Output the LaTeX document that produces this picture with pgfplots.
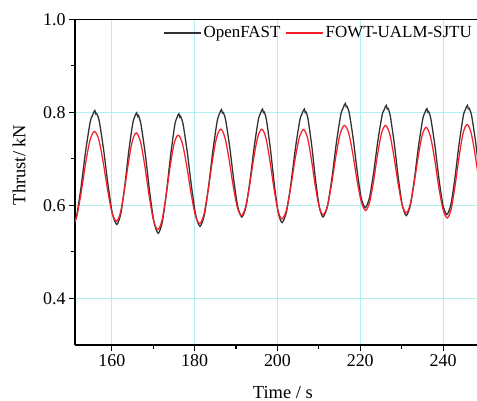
\documentclass[border=0pt]{standalone}
\usepackage{pgfplots}
\pgfplotsset{compat=1.18}
\usepackage{fontspec}
\setmainfont{Liberation Serif}
\definecolor{gridc}{RGB}{175,240,240}
\definecolor{ofgray}{RGB}{50,50,50}
\definecolor{sjred}{RGB}{245,30,40}
\begin{document}
\begin{tikzpicture}
\begin{axis}[
  scale only axis,
  width=402bp, height=325.7bp,
  xmin=151.1, xmax=248.2,
  ymin=0.3, ymax=1.0,
  axis x line*=box, axis y line*=left,
  xtick pos=left, ytick pos=left,
  tick align=outside,
  xtick={160,180,200,220,240},
  ytick={0.4,0.6,0.8,1.0},
  minor x tick num=1, minor y tick num=1,
  major tick length=6bp, minor tick length=3.5bp,
  tick style={black, line width=1.1bp},
  axis line style={black, line width=1.2bp},
  grid=major,
  major grid style={gridc, line width=0.7bp},
  /pgf/number format/assume math mode=true,
  yticklabel style={/pgf/number format/fixed, /pgf/number format/fixed zerofill, /pgf/number format/precision=1},
  xticklabel style={/pgf/number format/fixed},
  scaled ticks=false,
  tick label style={font=\fontsize{18}{20}\selectfont},
  xlabel={Time / s},
  ylabel={Thrust/ kN},
  label style={font=\fontsize{18.5}{21}\selectfont},
  xlabel style={at={(axis description cs:0.517,0)}, anchor=base, yshift=-53bp},
  ylabel style={at={(axis description cs:-0.139,0.553)}, anchor=center},
  legend columns=2,
  legend style={at={(1.0,0.99)}, anchor=north east, draw=none, fill=none,
    font=\fontsize{17}{19}\selectfont,
    /tikz/every even column/.append style={column sep=3bp}},
  legend image code/.code={\draw[#1] (0bp,0bp) -- (37bp,0bp);},
  clip=true,
]
\addplot[color=ofgray, line width=1.3bp, smooth, tension=0.4] coordinates {
(150.3,0.550) (151.42,0.574) (152.54,0.638) (153.66,0.716) (154.78,0.780)
(155.4,0.795) (155.65,0.801) (155.9,0.804) (156.1,0.797) (156.3,0.798)
(156.96,0.781) (158.02,0.719) (159.08,0.644) (160.14,0.582) (161.2,0.559)
(162.16,0.582) (163.12,0.642) (164.08,0.716) (165.04,0.776)
(165.5,0.790) (165.75,0.796) (166.0,0.799) (166.2,0.792) (166.4,0.794)
(167.04,0.774) (168.08,0.710) (169.12,0.630) (170.16,0.565) (171.2,0.540)
(172.2,0.565) (173.2,0.629) (174.2,0.708) (175.2,0.773)
(175.7,0.788) (175.95,0.794) (176.2,0.797) (176.4,0.790) (176.6,0.792)
(177.22,0.774) (178.24,0.713) (179.26,0.639) (180.28,0.578) (181.3,0.555)
(182.34,0.579) (183.38,0.642) (184.42,0.719) (185.46,0.782)
(186.0,0.797) (186.25,0.803) (186.5,0.806) (186.7,0.799) (186.9,0.800)
(187.48,0.784) (188.46,0.726) (189.44,0.655) (190.42,0.597) (191.4,0.575)
(192.4,0.597) (193.4,0.655) (194.4,0.727) (195.4,0.785)
(195.9,0.798) (196.15,0.804) (196.4,0.807) (196.6,0.800) (196.8,0.801)
(197.34,0.784) (198.28,0.723) (199.22,0.647) (200.16,0.586) (201.1,0.563)
(202.18,0.586) (203.26,0.647) (204.34,0.723) (205.42,0.784)
(206.0,0.798) (206.25,0.804) (206.5,0.807) (206.7,0.800) (206.9,0.801)
(207.4,0.785) (208.3,0.727) (209.2,0.655) (210.1,0.597) (211.0,0.575)
(212.08,0.598) (213.16,0.659) (214.24,0.735) (215.32,0.796)
(215.9,0.810) (216.15,0.816) (216.4,0.819) (216.6,0.812) (216.8,0.813)
(217.36,0.798) (218.32,0.742) (219.28,0.672) (220.24,0.616) (221.2,0.595)
(222.22,0.616) (223.24,0.671) (224.26,0.739) (225.28,0.794)
(225.8,0.806) (226.05,0.812) (226.3,0.815) (226.5,0.808) (226.7,0.809)
(227.26,0.792) (228.22,0.733) (229.18,0.660) (230.14,0.601) (231.1,0.578)
(232.1,0.600) (233.1,0.658) (234.1,0.729) (235.1,0.786)
(235.6,0.799) (235.85,0.805) (236.1,0.808) (236.3,0.801) (236.5,0.802)
(237.06,0.786) (238.02,0.729) (238.98,0.659) (239.94,0.602) (240.9,0.580)
(241.9,0.602) (242.9,0.661) (243.9,0.734) (244.9,0.793)
(245.4,0.806) (245.65,0.812) (245.9,0.815) (246.1,0.808) (246.3,0.809)
(246.9,0.793) (247.9,0.734) (248.9,0.661) (249.9,0.602) (250.9,0.580)
};
\addlegendentry{OpenFAST}
\addplot[color=sjred, line width=1.25bp, smooth, tension=0.5] coordinates {
(150.4,0.556) (151.48,0.575) (152.56,0.626) (153.64,0.689) (154.72,0.740) (155.8,0.759)
(156.86,0.741) (157.92,0.692) (158.98,0.633) (160.04,0.584) (161.1,0.566)
(162.06,0.584) (163.02,0.632) (163.98,0.690) (164.94,0.738) (165.9,0.756)
(166.94,0.736) (167.98,0.684) (169.02,0.620) (170.06,0.568) (171.1,0.548)
(172.08,0.567) (173.06,0.618) (174.04,0.681) (175.02,0.732) (176.0,0.751)
(177.04,0.733) (178.08,0.685) (179.12,0.627) (180.16,0.579) (181.2,0.561)
(182.22,0.580) (183.24,0.631) (184.26,0.694) (185.28,0.745) (186.3,0.764)
(187.3,0.746) (188.3,0.700) (189.3,0.642) (190.3,0.596) (191.3,0.578)
(192.28,0.596) (193.26,0.642) (194.24,0.700) (195.22,0.746) (196.2,0.764)
(197.18,0.746) (198.16,0.697) (199.14,0.638) (200.12,0.589) (201.1,0.571)
(202.14,0.589) (203.18,0.637) (204.22,0.697) (205.26,0.745) (206.3,0.763)
(207.24,0.746) (208.18,0.700) (209.12,0.643) (210.06,0.598) (211.0,0.580)
(212.04,0.598) (213.08,0.646) (214.12,0.706) (215.16,0.754) (216.2,0.772)
(217.22,0.755) (218.24,0.709) (219.26,0.652) (220.28,0.607) (221.3,0.589)
(222.26,0.607) (223.22,0.652) (224.18,0.709) (225.14,0.755) (226.1,0.772)
(227.1,0.754) (228.1,0.707) (229.1,0.649) (230.1,0.602) (231.1,0.584)
(232.06,0.602) (233.02,0.648) (233.98,0.704) (234.94,0.750) (235.9,0.768)
(236.92,0.749) (237.94,0.701) (238.96,0.640) (239.98,0.592) (241.0,0.573)
(241.96,0.592) (242.92,0.643) (243.88,0.705) (244.84,0.755) (245.8,0.774)
(246.8,0.755) (247.8,0.706) (248.8,0.646) (249.8,0.597) (250.8,0.578)
};
\addlegendentry{FOWT-UALM-SJTU}
\end{axis}
\pgfresetboundingbox
\path (-75bp,-56bp) rectangle (402bp,345bp);
\end{tikzpicture}
\end{document}
